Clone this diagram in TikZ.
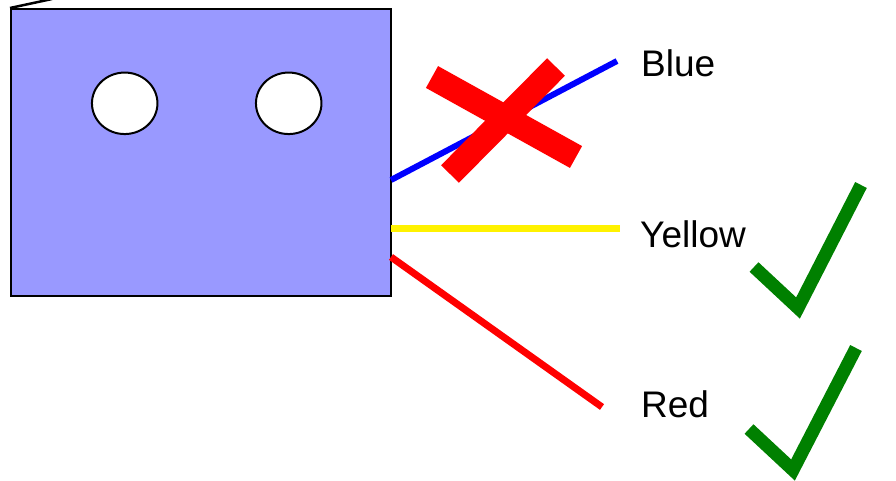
\documentclass[tikz,border=0pt]{standalone}
\usepackage{fontspec}
\setmainfont{Liberation Sans}
\usetikzlibrary{shapes.geometric}
\begin{document}
\begin{tikzpicture}[x=1pt,y=-1pt,
  box/.style={draw=black,line width=2.5pt,fill=boxblue,rectangle,inner sep=0pt,
    minimum width=380pt,minimum height=287pt},
  hole/.style={draw=black,line width=2pt,fill=white,ellipse,inner sep=0pt,
    minimum width=65.5pt,minimum height=61.5pt},
  wire/.style={line width=7pt},
  lbl/.style={anchor=base west,inner sep=0pt,font=\fontsize{37}{44}\selectfont},
  crossbar/.style={draw=red,line width=25pt,line cap=butt},
  tick/.style={draw=okgreen,line width=13pt,line join=miter,line cap=butt}]
\definecolor{boxblue}{RGB}{153,153,255}
\definecolor{okgreen}{RGB}{0,128,0}
\useasboundingbox (0,0) rectangle (896,480);
\begin{scope}
\clip (0,0) rectangle (896,480);
\draw[line width=2.5pt] (10,8) -- (52,-1);
\end{scope}
\node[box] (dev) at (201,152.5) {};
\node[hole] (h1) at (124.7,103.3) {};
\node[hole] (h2) at (288.7,103.3) {};
% wire ends
\coordinate (bs) at (391,180);
\coordinate (be) at (617,61);
\coordinate (ys) at (391,228);
\coordinate (ye) at (620,228);
\coordinate (rs) at (391,257);
\coordinate (re) at (602,407);
\draw[wire,blue,line width=6pt] (bs) -- (be);
\draw[wire,yellow] (ys) -- (ye);
\draw[wire,red] (rs) -- (re);
% labels
\node[lbl] (lb) at (641,76.7) {Blue};
\node[lbl] (ly) at (640,247.3) {Yellow};
\node[lbl] (lr) at (641,417.7) {Red};
% red cross
\draw[crossbar] (432,77) -- (576,157);
\draw[crossbar] (450,174) -- (556,67);
% check marks
\draw[tick] (754,267) -- (798,308) -- (861,185);
\draw[tick] (749,429) -- (793,470) -- (856,348);
\end{tikzpicture}
\end{document}
